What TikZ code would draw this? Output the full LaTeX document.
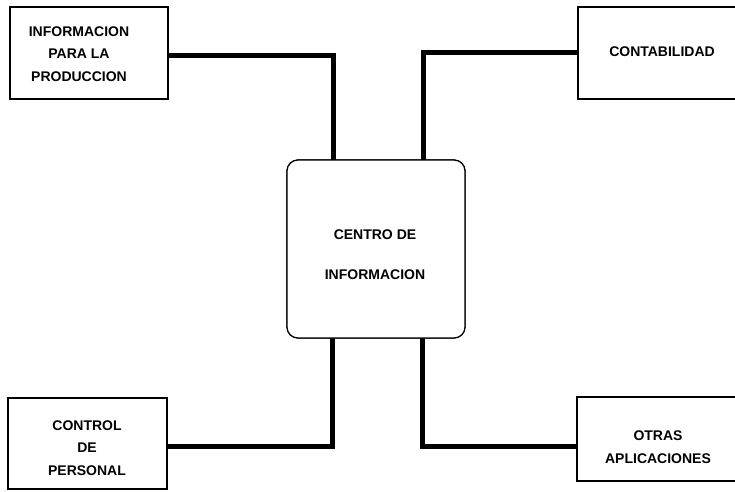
\documentclass[tikz,border=0pt]{standalone}
\usepackage{fontspec}
\setmainfont{Liberation Sans}
\begin{document}
\begin{tikzpicture}[x=1pt,y=-1pt,
  box/.style={draw=black,line width=1.2pt,fill=white,inner sep=0pt},
  hub/.style={box,rounded corners=11pt},
  lbl/.style={align=center,font=\bfseries\fontsize{14}{22.5}\selectfont,inner sep=0pt},
  conn/.style={line width=5pt,line cap=butt,line join=miter}]
\useasboundingbox (0,0) rectangle (735,491);
\clip (0,0) rectangle (735,491);
\fill[white] (0,0) rectangle (735,491);

% connector corners on the hub's edges
\coordinate (tl) at (333,160);
\coordinate (tr) at (423,160);
\coordinate (bl) at (332,338);
\coordinate (br) at (422,338);

% boxes
\node[box,minimum width=158pt,minimum height=92pt] (ip) at (89,53) {};
\node[box,minimum width=162pt,minimum height=92pt] (cont) at (659,53) {};
\node[box,minimum width=159pt,minimum height=91pt] (cp) at (87.5,443.5) {};
\node[box,minimum width=168pt,minimum height=84pt] (otras) at (661,439) {};
\node[hub,minimum width=178pt,minimum height=178pt] (centro) at (376,249) {};

% thick links from each box to the hub
\draw[conn] (ip.east |- 0,55) -| (tl);
\draw[conn] (cont.west |- 0,52) -| (tr);
\draw[conn] (cp.east |- 0,446) -| (bl);
\draw[conn] (otras.west |- 0,446) -| (br);

% redraw box outlines over the link ends
\node[box,minimum width=158pt,minimum height=92pt] at (ip) {};
\node[box,minimum width=162pt,minimum height=92pt] at (cont) {};
\node[box,minimum width=159pt,minimum height=91pt] at (cp) {};
\node[box,minimum width=168pt,minimum height=84pt] at (otras) {};
\node[hub,minimum width=178pt,minimum height=178pt] at (centro) {};

% labels
\node[lbl] (ipt) at (79,54) {INFORMACION\\PARA LA\\PRODUCCION};
\node[lbl] (contt) at (662,52) {CONTABILIDAD};
\node[lbl,font=\bfseries\fontsize{14}{40}\selectfont] (centrot) at (375,255) {CENTRO DE\\INFORMACION};
\node[lbl] (cpt) at (87,448) {CONTROL\\DE\\PERSONAL};
\node[lbl] (otrast) at (658,447) {OTRAS\\APLICACIONES};
\end{tikzpicture}
\end{document}
